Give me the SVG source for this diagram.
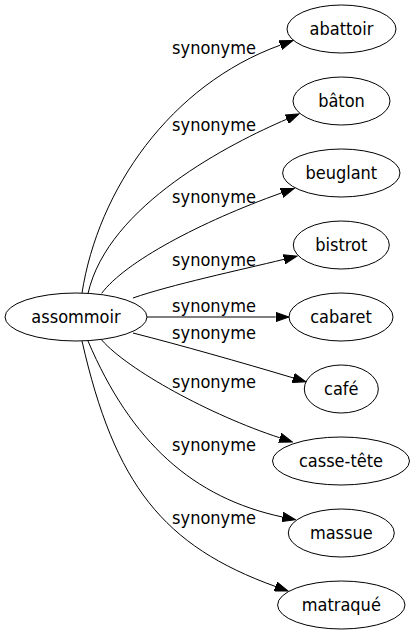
<svg xmlns="http://www.w3.org/2000/svg" width="416" height="635" viewBox="0 0 416 635">
<style>
.n ellipse{fill:none;stroke:#000;stroke-width:1}
text{font-family:"DejaVu Sans Condensed","DejaVu Sans",sans-serif;font-stretch:condensed;font-size:18px;fill:#000;text-anchor:middle}
.e path{fill:none;stroke:#000;stroke-width:1;marker-end:url(#arr)}
</style>
<defs>
<marker id="arr" viewBox="0 -5 14 10" markerWidth="14" markerHeight="10" refX="0" refY="0" orient="auto" markerUnits="userSpaceOnUse">
<path d="M0,-4.7 L13.3,0 L0,4.7 Z" fill="#000" stroke="#000" stroke-width="1"/>
</marker>
</defs>
<rect width="416" height="635" fill="#fff"/>
<g id="edges" class="e">
<path d="M82,293 C98,190 170,85 280.4,45.1"/>
<path d="M88,293.5 C108,205 231.7,142.8 286.8,119.2"/>
<path d="M101.7,293.3 C125,262 200,222 281.6,192.9"/>
<path d="M133,298 C170,285 240,270 284.1,259.3"/>
<path d="M147,317 L275.7,317"/>
<path d="M133,333 C180,345 240,362 293.2,377.9"/>
<path d="M101.7,340 C128,370 210,415 279.8,437.8"/>
<path d="M88,341 C131,442 193,498 282.5,517"/>
<path d="M82,341 C114.6,484.6 163,545.9 275.5,586.5"/>
<text x="214" y="54">synonyme</text>
<text x="214" y="131">synonyme</text>
<text x="214" y="203">synonyme</text>
<text x="214" y="266">synonyme</text>
<text x="214" y="311.5">synonyme</text>
<text x="214" y="339">synonyme</text>
<text x="214" y="387.5">synonyme</text>
<text x="214" y="450.5">synonyme</text>
<text x="214" y="524">synonyme</text>
</g>
<g id="n-assommoir" class="n"><ellipse cx="76" cy="317" rx="71" ry="24"/><text x="76" y="323.3">assommoir</text></g>
<g id="n-abattoir" class="n"><ellipse cx="341.5" cy="29" rx="54.5" ry="24"/><text x="341.5" y="35.3">abattoir</text></g>
<g id="n-baton" class="n"><ellipse cx="341.5" cy="101" rx="48.5" ry="24"/><text x="341.5" y="107.3">bâton</text></g>
<g id="n-beuglant" class="n"><ellipse cx="341.3" cy="173" rx="58.7" ry="24"/><text x="341.3" y="179.3">beuglant</text></g>
<g id="n-bistrot" class="n"><ellipse cx="341.3" cy="245" rx="48" ry="24"/><text x="341.3" y="251.3">bistrot</text></g>
<g id="n-cabaret" class="n"><ellipse cx="341" cy="317" rx="52" ry="24"/><text x="341" y="323.3">cabaret</text></g>
<g id="n-cafe" class="n"><ellipse cx="341.3" cy="389" rx="37" ry="24"/><text x="341.3" y="395.3">café</text></g>
<g id="n-casse-tete" class="n"><ellipse cx="341" cy="461" rx="68.5" ry="24"/><text x="341" y="467.3">casse-tête</text></g>
<g id="n-massue" class="n"><ellipse cx="341.3" cy="533" rx="53" ry="24"/><text x="341.3" y="539.3">massue</text></g>
<g id="n-matraque" class="n"><ellipse cx="341.3" cy="605" rx="63.7" ry="24"/><text x="341.3" y="611.3">matraqué</text></g>
</svg>
